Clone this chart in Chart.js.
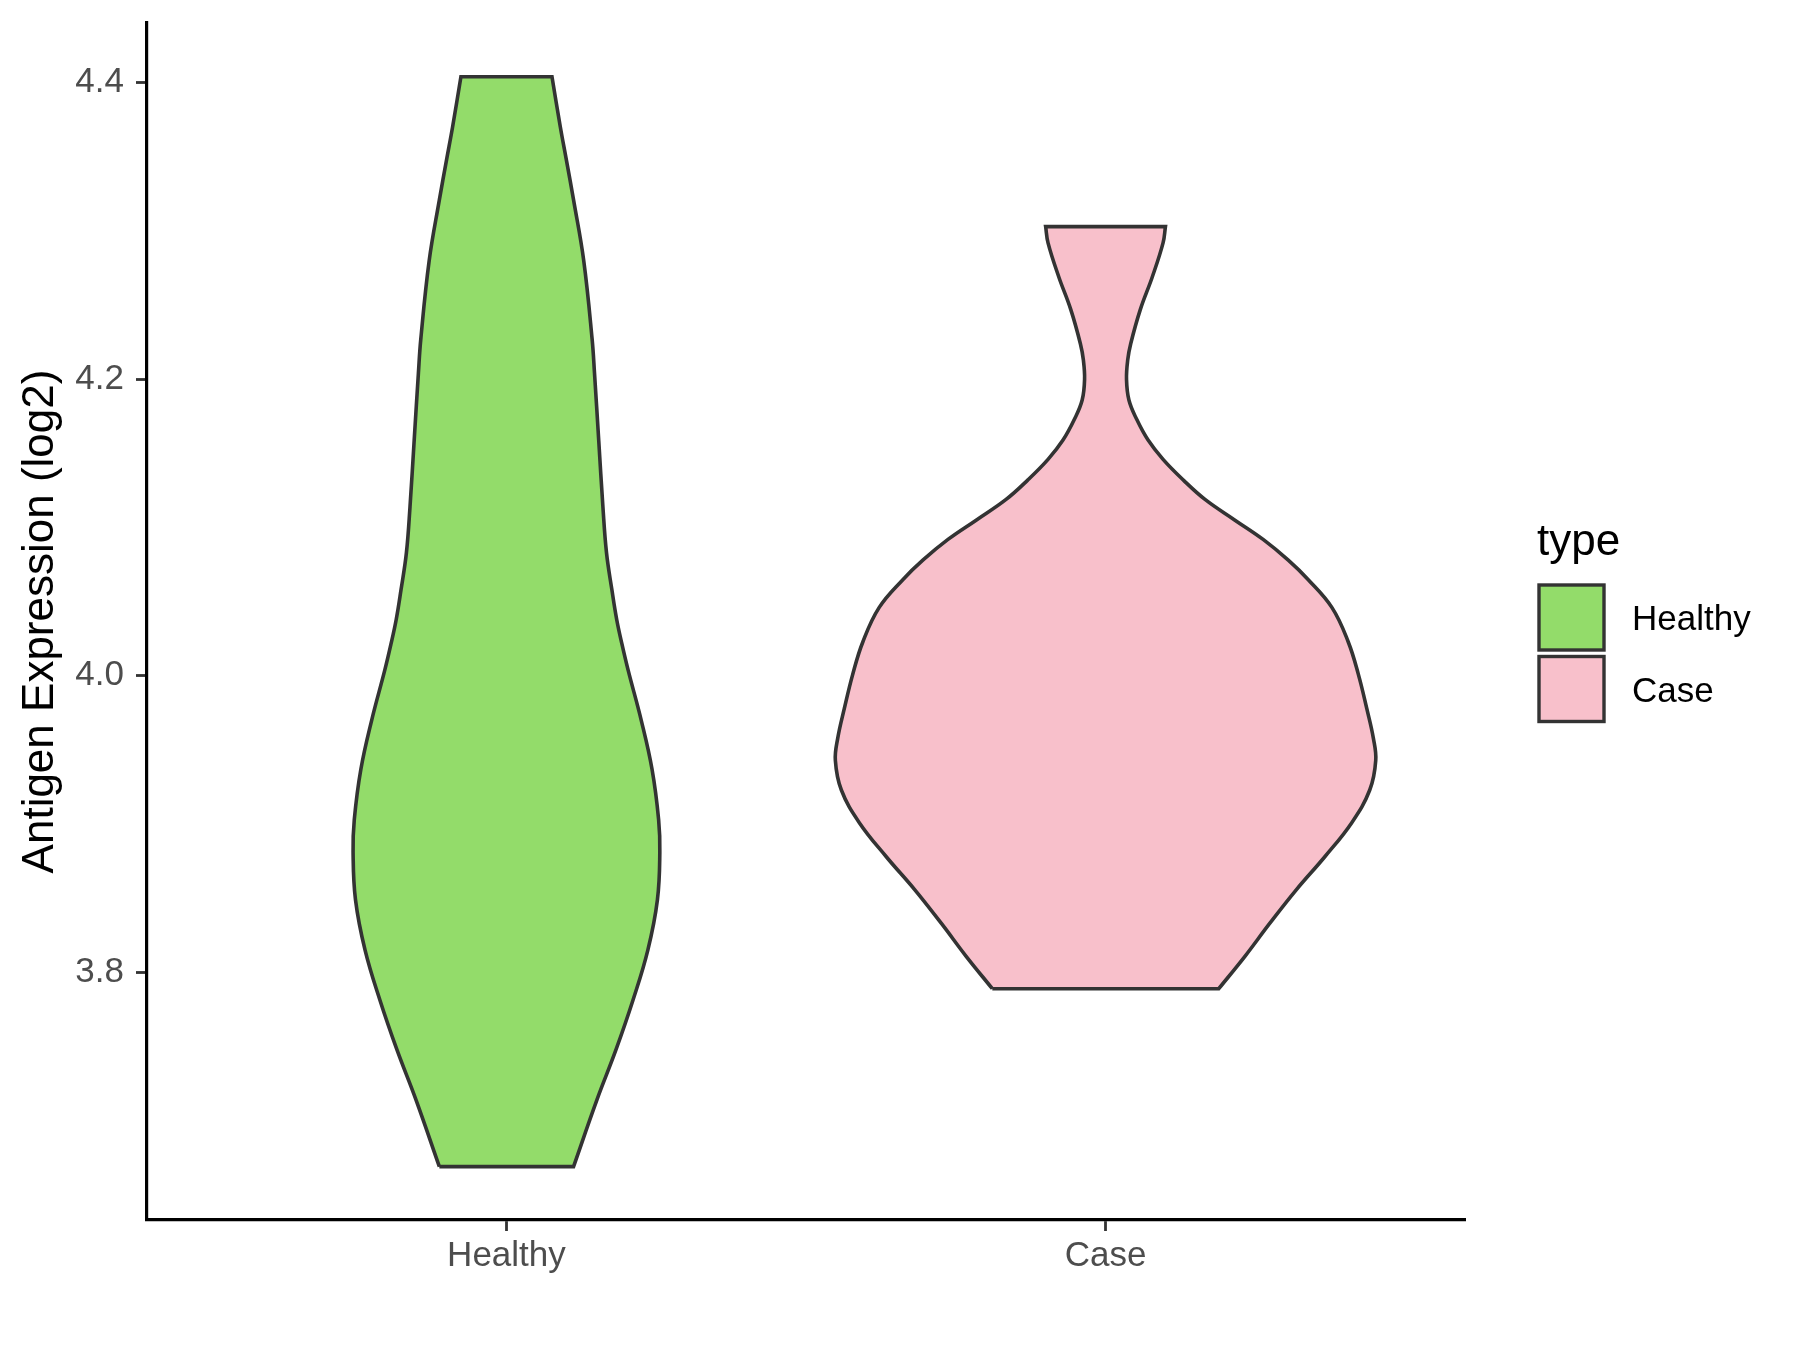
<!DOCTYPE html>
<html>
<head>
<meta charset="utf-8">
<script src="https://cdn.jsdelivr.net/npm/chart.js@4.4.1/dist/chart.umd.min.js"></script>
<style>
html, body { margin: 0; padding: 0; background: #ffffff; }
</style>
</head>
<body>
<canvas id="violinChart" width="1800" height="1350"></canvas>
<script>
let categories = ["Healthy", "Case"];
let fillColors = ["#93DC6A", "#F8C0CB"];
let yTicks = [3.8, 4.0, 4.2, 4.4];

// violin profiles: expression value and half width (in category units)
let healthyValues = [3.669, 3.714, 3.748, 3.781, 3.815, 3.849, 3.881, 3.903, 3.937, 3.970, 4.004, 4.021, 4.038, 4.058, 4.083, 4.114, 4.159, 4.204, 4.227, 4.280, 4.321, 4.348, 4.370, 4.404];
let healthyWidths = [0.112, 0.151, 0.183, 0.211, 0.236, 0.252, 0.256, 0.254, 0.243, 0.225, 0.203, 0.193, 0.184, 0.176, 0.167, 0.161, 0.154, 0.147, 0.143, 0.129, 0.112, 0.100, 0.090, 0.076];
let caseValues = [3.789, 3.811, 3.833, 3.856, 3.878, 3.901, 3.923, 3.943, 3.958, 3.978, 4.001, 4.023, 4.046, 4.065, 4.078, 4.092, 4.105, 4.119, 4.132, 4.146, 4.159, 4.173, 4.186, 4.200, 4.213, 4.224, 4.247, 4.269, 4.292, 4.303];
let caseWidths = [0.189, 0.233, 0.274, 0.319, 0.366, 0.411, 0.441, 0.451, 0.447, 0.436, 0.422, 0.405, 0.378, 0.338, 0.305, 0.263, 0.216, 0.166, 0.130, 0.096, 0.071, 0.052, 0.039, 0.035, 0.037, 0.042, 0.058, 0.078, 0.096, 0.100];

let fontFamily = '"Liberation Sans", Arial, sans-serif';

// outline of one violin: up the left side, across the top, down the right side, back along the bottom
function violinOutline(pos, values, widths) {
    let pts = [];
    let n = values.length;
    pts.push({x: pos - widths[0], y: values[0]});
    for (let i = 0; i < n; i++) {
        pts.push({x: pos - widths[i], y: values[i]});
    }
    pts.push({x: pos - widths[n - 1], y: values[n - 1]});
    pts.push({x: pos + widths[n - 1], y: values[n - 1]});
    for (let i = n - 1; i >= 0; i--) {
        pts.push({x: pos + widths[i], y: values[i]});
    }
    pts.push({x: pos + widths[0], y: values[0]});
    pts.push({x: pos - widths[0], y: values[0]});
    return pts;
}

const typeLegend = {
    id: 'typeLegend',
    afterDraw(chart) {
        const ctx = chart.ctx;
        ctx.save();
        ctx.fillStyle = '#000000';
        ctx.font = '44px ' + fontFamily;
        ctx.textBaseline = 'alphabetic';
        ctx.fillText('type', 1537, 555);
        categories.forEach((name, i) => {
            let top = 585 + i * 71.5;
            ctx.fillStyle = fillColors[i];
            ctx.fillRect(1539, top, 65, 65);
            ctx.lineWidth = 3.4;
            ctx.strokeStyle = '#333333';
            ctx.strokeRect(1539, top, 65, 65);
            ctx.fillStyle = '#000000';
            ctx.font = '35px ' + fontFamily;
            ctx.fillText(name, 1632, top + 32.5 + 12.5);
        });
        ctx.restore();
    }
};

let ctx = document.getElementById('violinChart').getContext('2d');
let violinChart = new Chart(ctx, {
    type: 'line',
    data: {
        datasets: [
            {
                label: categories[0],
                data: violinOutline(1, healthyValues, healthyWidths),
                backgroundColor: fillColors[0],
                borderColor: '#333333',
                borderWidth: 3.6,
                fill: 'shape',
                tension: 0.4,
                pointRadius: 0
            },
            {
                label: categories[1],
                data: violinOutline(2, caseValues, caseWidths),
                backgroundColor: fillColors[1],
                borderColor: '#333333',
                borderWidth: 3.6,
                fill: 'shape',
                tension: 0.4,
                pointRadius: 0
            }
        ]
    },
    plugins: [typeLegend],
    options: {
        responsive: false,
        animation: false,
        events: [],
        indexAxis: 'y',
        layout: {
            padding: {left: 0, top: 23, right: 335, bottom: 0}
        },
        plugins: {
            legend: {display: false},
            tooltip: {enabled: false}
        },
        scales: {
            x: {
                type: 'linear',
                position: 'bottom',
                min: 0.4,
                max: 2.6,
                afterBuildTicks: (scale) => {
                    scale.ticks = categories.map((c, i) => ({value: i + 1}));
                },
                afterFit: (scale) => {
                    scale.height = 130;
                    scale.paddingLeft = 0;
                    scale.paddingRight = 0;
                },
                ticks: {
                    autoSkip: false,
                    maxRotation: 0,
                    padding: 4,
                    color: '#4D4D4D',
                    font: {family: fontFamily, size: 35},
                    callback: (value, index) => categories[index]
                },
                grid: {
                    display: true,
                    drawOnChartArea: false,
                    drawTicks: true,
                    tickLength: 11,
                    tickColor: '#333333',
                    tickWidth: 2.8
                },
                border: {display: true, color: '#000000', width: 3.2}
            },
            y: {
                type: 'linear',
                position: 'left',
                min: 3.633,
                max: 4.4403,
                afterBuildTicks: (scale) => {
                    scale.ticks = yTicks.map(v => ({value: v}));
                },
                afterFit: (scale) => {
                    scale.width = 147;
                    scale.paddingTop = 0;
                    scale.paddingBottom = 0;
                },
                ticks: {
                    padding: 12,
                    color: '#4D4D4D',
                    font: {family: fontFamily, size: 35},
                    callback: (value) => value.toFixed(1)
                },
                title: {
                    display: true,
                    text: 'Antigen Expression (log2)',
                    color: '#000000',
                    font: {family: fontFamily, size: 44},
                    padding: {top: 14, bottom: 0}
                },
                grid: {
                    display: true,
                    drawOnChartArea: false,
                    drawTicks: true,
                    tickLength: 11,
                    tickColor: '#333333',
                    tickWidth: 2.8
                },
                border: {display: true, color: '#000000', width: 3.2}
            }
        }
    }
});
</script>
</body>
</html>
